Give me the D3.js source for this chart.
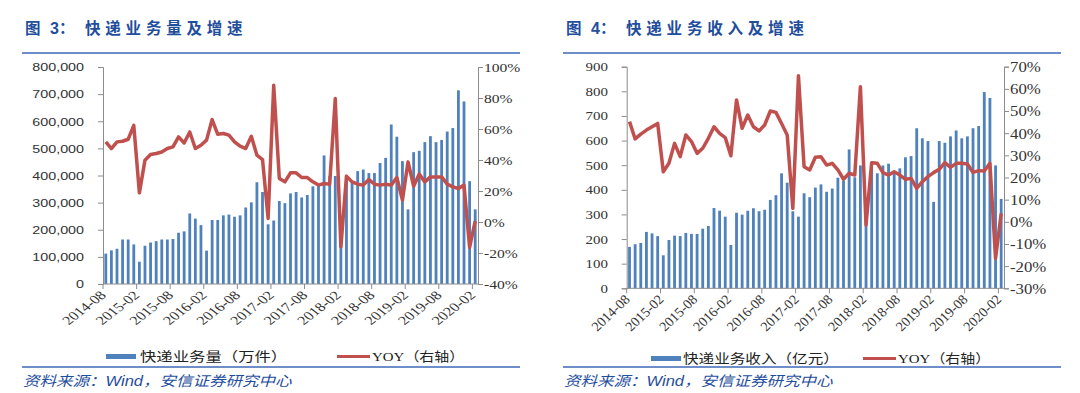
<!DOCTYPE html>
<html>
<head>
<meta charset="utf-8">
<script src="https://cdn.jsdelivr.net/npm/d3@7"></script>
<style>
  body { margin: 0; background: #fff; }
  svg { display: block; }
</style>
</head>
<body>
<script>
// monthly categories, 2014-08 .. 2020-02
const months = [
  '2014-08','2014-09','2014-10','2014-11','2014-12',
  '2015-01','2015-02','2015-03','2015-04','2015-05','2015-06','2015-07','2015-08','2015-09','2015-10','2015-11','2015-12',
  '2016-01','2016-02','2016-03','2016-04','2016-05','2016-06','2016-07','2016-08','2016-09','2016-10','2016-11','2016-12',
  '2017-01','2017-02','2017-03','2017-04','2017-05','2017-06','2017-07','2017-08','2017-09','2017-10','2017-11','2017-12',
  '2018-01','2018-02','2018-03','2018-04','2018-05','2018-06','2018-07','2018-08','2018-09','2018-10','2018-11','2018-12',
  '2019-01','2019-02','2019-03','2019-04','2019-05','2019-06','2019-07','2019-08','2019-09','2019-10','2019-11','2019-12',
  '2020-01','2020-02'
];
const tickLabels = ['2014-08','2015-02','2015-08','2016-02','2016-08','2017-02',
  '2017-08','2018-02','2018-08','2019-02','2019-08','2020-02'];

// 快递业务量（万件）
const volume = [
  112000,124000,130000,164000,164000,
  146000,82000,141000,153000,158000,164000,164000,166000,189000,194000,260000,241000,
  217000,123000,236000,236000,253000,256000,248000,253000,282000,301000,375000,339000,
  220000,234000,306000,298000,334000,339000,319000,328000,360000,368000,474000,398000,
  398000,197000,390000,378000,416000,422000,409000,409000,446000,465000,588000,543000,
  453000,275000,486000,491000,523000,545000,523000,531000,562000,575000,714000,673000,
  379000,275000
];
// YOY (%)
const volumeYoy = [
  51.7,47.4,51.7,52.1,53.4,
  62.4,18.8,39.9,43.5,44.2,45.2,47.4,48.5,54.9,51.0,58.1,47.4,
  49.5,52.8,66.1,56.6,57.1,56.0,51.7,48.9,47.4,55.3,43.1,40.3,
  2.3,88.2,28.1,25.9,31.7,31.7,28.7,28.7,25.9,23.8,24.8,24.4,
  79.6,-16.0,29.6,25.9,24.4,23.8,27.4,24.4,23.8,24.4,23.8,28.7,
  14.1,38.8,23.1,30.9,25.9,29.1,29.1,29.1,24.4,22.7,21.6,23.8,
  -16.4,0.5
];

// 快递业务收入（亿元）
const revenue = [
  168,179,184,229,223,
  212,134,196,214,212,225,221,221,242,253,326,315,
  291,176,307,299,315,325,313,319,359,378,467,429,
  313,291,386,370,409,422,392,405,449,436,564,451,
  499,287,489,467,499,506,470,487,532,537,650,609,
  598,351,598,591,617,641,609,617,650,659,797,773,
  499,363
];
const revenueYoy = [
  45.2,37.4,39.6,41.4,42.9,
  44.4,22.6,26.4,35.4,29.4,39.2,36.2,30.9,33.2,37.7,42.9,39.9,
  38.0,29.8,55.0,42.2,48.2,42.9,41.0,43.7,50.0,49.4,44.4,39.2,
  6.1,65.9,24.9,23.4,29.1,29.4,25.6,26.4,23.4,19.2,21.9,21.1,
  61.0,-1.4,26.7,26.4,22.2,21.1,22.6,21.1,19.2,19.6,15.1,18.1,
  20.4,22.2,23.7,26.7,24.6,26.4,26.4,26.1,22.3,23.1,22.9,26.4,
  -16.5,3.8
];

const volumeTicks = [0,100000,200000,300000,400000,500000,600000,700000,800000];
const volumeYoyTicks = [-40,-20,0,20,40,60,80,100];
const revenueTicks = [0,100,200,300,400,500,600,700,800,900];
const revenueYoyTicks = [-30,-20,-10,0,10,20,30,40,50,60,70];

const BLUE = '#4F81BD', RED = '#C0504D', DARKBLUE = '#1F4E9D', RULE = '#3D69B6';
const CJK = '"Noto Sans CJK SC", sans-serif';
const SERIF = '"Liberation Serif", "DejaVu Serif", serif';
const SANS = '"Liberation Sans", Arial, sans-serif';

const svg = d3.select('body').append('svg')
  .attr('width', 1080).attr('height', 393);
svg.append('rect').attr('width', 1080).attr('height', 393).attr('fill', '#fff');

function drawPanel(p) {
  const g = svg.append('g');
  const ox = p.ox;

  // title
  const tBase = 34;
  g.append('text').attr('x', ox + 3).attr('y', tBase).text('图')
    .style('font-family', CJK).style('font-weight', 700).style('font-size', '15.5px').attr('fill', DARKBLUE);
  g.append('text').attr('x', ox + 28).attr('y', tBase).text(p.num)
    .style('font-family', SANS).style('font-weight', 700).style('font-size', '16px').attr('fill', DARKBLUE);
  g.append('text').attr('x', ox + 37).attr('y', tBase).text('：')
    .style('font-family', CJK).style('font-weight', 700).style('font-size', '15.5px').attr('fill', DARKBLUE);
  g.append('text').attr('x', ox + 63).attr('y', tBase).text(p.title)
    .style('font-family', CJK).style('font-weight', 700).style('font-size', '15.5px')
    .style('letter-spacing', '4.8px').attr('fill', DARKBLUE);
  g.append('line').attr('x1', ox).attr('x2', ox + 498).attr('y1', 53).attr('y2', 53)
    .attr('stroke', RULE).attr('stroke-width', 1.5);

  // scales
  const x = d3.scaleBand().domain(months).range([p.left, p.right])
    .paddingInner(0.5).paddingOuter(0.25);
  const y0 = d3.scaleLinear().domain(p.y0Dom).range([p.bottom, p.top]);
  const y1 = d3.scaleLinear().domain(p.y1Dom).range([p.bottom, p.top]);

  // bars
  g.selectAll('rect.bar').data(p.bars).join('rect')
    .attr('class', 'bar')
    .attr('x', (d, i) => x(months[i]))
    .attr('y', d => y0(d))
    .attr('width', x.bandwidth())
    .attr('height', d => y0(0) - y0(d))
    .attr('fill', BLUE);

  // axes
  const axisCol = '#8C8C8C';
  const leftAxis = g.append('g').attr('transform', `translate(${p.left},0)`)
    .call(d3.axisLeft(y0).tickValues(p.y0Ticks).tickSize(5).tickFormat(p.y0Fmt));
  const rightAxis = g.append('g').attr('transform', `translate(${p.right},0)`)
    .call(d3.axisRight(y1).tickValues(p.y1Ticks).tickSize(5).tickFormat(d => d + '%'));
  const bottomAxis = g.append('g').attr('transform', `translate(0,${p.bottom})`)
    .call(d3.axisBottom(x).tickValues(tickLabels).tickSize(5).tickSizeOuter(0));

  [leftAxis, rightAxis, bottomAxis].forEach(a => {
    a.select('.domain').attr('stroke', axisCol);
    a.selectAll('.tick line').attr('stroke', axisCol);
  });
  // bottom axis: tick at left edge of each labelled month
  bottomAxis.selectAll('.tick')
    .attr('transform', d => `translate(${x(d) - (x.step() - x.bandwidth()) / 2},0)`);
  bottomAxis.select('.domain').attr('d', `M${p.left},0H${p.right}`);

  leftAxis.selectAll('text')
    .attr('x', -p.lOff / p.lsx).attr('dy', '0.35em')
    .attr('transform', `scale(${p.lsx},1)`)
    .style('font-family', p.lFont).style('font-size', p.lSize + 'px').attr('fill', '#333');
  rightAxis.selectAll('text')
    .attr('x', p.rOff / p.rsx).attr('dy', '0.35em')
    .attr('transform', `scale(${p.rsx},1)`)
    .style('font-family', SERIF).style('font-size', p.rSize + 'px').attr('fill', '#333');
  bottomAxis.selectAll('text')
    .attr('x', 0).attr('y', 0).attr('dy', 0)
    .attr('transform', `translate(4,12) scale(${p.bsx},1) rotate(-45)`)
    .style('text-anchor', 'end')
    .style('font-family', SERIF).style('font-size', p.bSize + 'px').attr('fill', '#333');

  // line
  const line = d3.line()
    .x((d, i) => x(months[i]) + x.bandwidth() / 2)
    .y(d => y1(d));
  g.append('path').datum(p.yoy)
    .attr('d', line)
    .attr('fill', 'none')
    .attr('stroke', RED)
    .attr('stroke-width', 3.5)
    .attr('stroke-linejoin', 'round');

  // legend
  const L = p.legend;
  g.append('rect').attr('x', L.bx).attr('y', L.by).attr('width', 30).attr('height', 5).attr('fill', BLUE);
  g.append('text').attr('transform', `translate(${L.tx},${L.ty}) scale(${L.sx},1)`)
    .text(p.barName)
    .style('font-family', CJK).style('font-size', '13px').attr('fill', '#222');
  g.append('line').attr('x1', L.lx).attr('x2', L.lx + 33).attr('y1', L.by + 2.5).attr('y2', L.by + 2.5)
    .attr('stroke', RED).attr('stroke-width', 3);
  const yt = g.append('text').attr('transform', `translate(${L.lx + 35},${L.ty}) scale(1.15,1)`)
    .attr('fill', '#222').style('font-size', '13px');
  yt.append('tspan').text('YOY').style('font-family', SERIF);
  yt.append('tspan').text('（右轴）').style('font-family', CJK);

  // bottom rule and source
  g.append('line').attr('x1', ox).attr('x2', ox + 498).attr('y1', 367).attr('y2', 367)
    .attr('stroke', RULE).attr('stroke-width', 1.5);
  const src = g.append('text').attr('transform', `translate(${ox + 1},386) scale(1.18,1)`)
    .attr('fill', DARKBLUE).style('font-style', 'italic').style('font-size', '14px');
  src.append('tspan').text('资料来源：').style('font-family', CJK);
  src.append('tspan').text('Wind').style('font-family', SANS);
  src.append('tspan').text('，安信证券研究中心').style('font-family', CJK);
}

drawPanel({
  ox: 22, num: '3', title: '快递业务量及增速',
  left: 103, right: 478, top: 67, bottom: 284,
  y0Dom: [0, 800000], y1Dom: [-40, 100],
  y0Ticks: volumeTicks, y1Ticks: volumeYoyTicks,
  y0Fmt: d3.format(','),
  bars: volume, yoy: volumeYoy,
  lOff: 19, lsx: 1.3, lFont: SANS, lSize: 11,
  rOff: 6, rsx: 1.3, rSize: 12,
  bsx: 1.3, bSize: 12.5,
  barName: '快递业务量（万件）',
  legend: { bx: 106, by: 354, tx: 140, ty: 361, lx: 337, sx: 1.26 }
});

drawPanel({
  ox: 563, num: '4', title: '快递业务收入及增速',
  left: 626.7, right: 1004, top: 66.7, bottom: 288.3,
  y0Dom: [0, 900], y1Dom: [-30, 70],
  y0Ticks: revenueTicks, y1Ticks: revenueYoyTicks,
  y0Fmt: d3.format('d'),
  bars: revenue, yoy: revenueYoy,
  lOff: 18.7, lsx: 1.3, lFont: SERIF, lSize: 11.5,
  rOff: 6, rsx: 1.2, rSize: 14,
  bsx: 1.05, bSize: 13.5,
  barName: '快递业务收入（亿元）',
  legend: { bx: 651, by: 356, tx: 683, ty: 363, lx: 863, sx: 1.2 }
});
</script>
</body>
</html>
